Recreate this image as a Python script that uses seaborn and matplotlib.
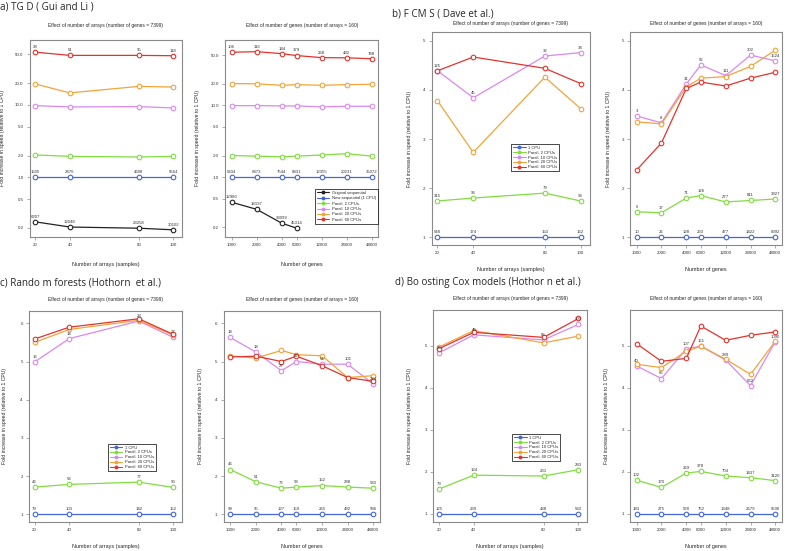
import numpy as np
import pandas as pd
import matplotlib
matplotlib.use("Agg")
import matplotlib.pyplot as plt
from matplotlib.lines import Line2D
from matplotlib.ticker import NullLocator
import seaborn as sns

# ------------------------------------------------------------------ data
arrays_x = [20, 40, 80, 100]
genes_x = [1000, 2000, 4000, 6000, 12000, 24000, 48000]
genes_orig_x = [1000, 2000, 4000, 6000]
genes_ticklabels = ["1000", "2000", "4000", "6000", "12000", "24000", "48000"]
log_yticks = [0.2, 0.5, 1.0, 2.0, 5.0, 10.0, 20.0, 50.0]

# a) TGD, arrays
tgd_arr_orig = [0.2425, 0.2055, 0.198, 0.188]
tgd_arr_1 = [1, 1, 1, 1]
tgd_arr_2 = [2.04, 1.95, 1.91, 1.95]
tgd_arr_10 = [9.8, 9.4, 9.5, 9.1]
tgd_arr_20 = [19.5, 14.7, 18.1, 17.7]
tgd_arr_60 = [53.75, 48.5, 48.5, 48.0]
tgd_arr_lab_orig = [6207, 12048, 23258, 30102]
tgd_arr_lab_1 = [1505, 2476, 4608, 5664]
tgd_arr_lab_60 = [28, 51, 95, 118]

# a) TGD, genes
tgd_gen_orig = [0.447, 0.356, 0.228, 0.195]
tgd_gen_1 = [1, 1, 1, 1, 1, 1, 1]
tgd_gen_2 = [2.0, 1.96, 1.92, 1.96, 2.03, 2.12, 1.96]
tgd_gen_10 = [9.9, 9.9, 9.8, 9.8, 9.5, 9.7, 9.7]
tgd_gen_20 = [20.1, 19.9, 19.0, 19.4, 19.0, 19.4, 19.6]
tgd_gen_60 = [54.8, 55.8, 52.4, 49.3, 46.1, 45.8, 44.5]
tgd_gen_lab_orig = [12980, 18197, 33099, 45314]
tgd_gen_lab_1 = [5804, 6473, 7544, 8831, 12355, 20231, 35072]
tgd_gen_lab_60 = [106, 116, 144, 179, 268, 442, 788]

# b) FCMS
fcms_arr_1 = [1, 1, 1, 1]
fcms_arr_2 = [1.74, 1.80, 1.90, 1.74]
fcms_arr_10 = [4.39, 3.84, 4.69, 4.76]
fcms_arr_20 = [3.78, 2.73, 4.26, 3.62]
fcms_arr_60 = [4.39, 4.67, 4.44, 4.13]
fcms_arr_lab_1 = [548, 174, 150, 162]
fcms_arr_lab_2 = [315, 96, 79, 93]
fcms_arr_lab_10 = [125, 45, 32, 34]

fcms_gen_1 = [1, 1, 1, 1, 1, 1, 1]
fcms_gen_2 = [1.52, 1.50, 1.80, 1.85, 1.72, 1.75, 1.78]
fcms_gen_10 = [3.47, 3.33, 4.12, 4.51, 4.29, 4.71, 4.59]
fcms_gen_20 = [3.35, 3.31, 4.06, 4.24, 4.27, 4.48, 4.81]
fcms_gen_60 = [2.37, 2.92, 4.03, 4.16, 4.08, 4.24, 4.36]
fcms_gen_lab_1 = [10, 26, 128, 233, 477, 1422, 6992]
fcms_gen_lab_2 = [6, 17, 71, 126, 277, 811, 3927]
fcms_gen_lab_10 = [3, 8, 31, 52, 111, 302, 1524]

# c) Random forests
rf_arr_1 = [1, 1, 1, 1]
rf_arr_2 = [1.71, 1.78, 1.84, 1.70]
rf_arr_10 = [4.99, 5.60, 6.06, 5.63]
rf_arr_20 = [5.50, 5.84, 6.08, 5.69]
rf_arr_60 = [5.59, 5.90, 6.12, 5.71]
rf_arr_lab_1 = [79, 103, 142, 152]
rf_arr_lab_2 = [46, 58, 77, 90]
rf_arr_lab_10 = [16, 18, 23, 27]

rf_gen_1 = [1, 1, 1, 1, 1, 1, 1]
rf_gen_2 = [2.17, 1.85, 1.68, 1.71, 1.75, 1.71, 1.68]
rf_gen_10 = [5.63, 5.25, 4.76, 5.0, 4.93, 4.93, 4.41]
rf_gen_20 = [5.15, 5.09, 5.29, 5.18, 5.15, 4.58, 4.63]
rf_gen_60 = [5.12, 5.14, 5.0, 5.14, 4.89, 4.58, 4.48]
rf_gen_lab_1 = [99, 95, 127, 159, 265, 492, 986]
rf_gen_lab_2 = [46, 51, 76, 93, 152, 288, 580]
rf_gen_lab_10 = [18, 18, 27, 32, 54, 101, 224]

# d) Boosting Cox models
bc_arr_1 = [1, 1, 1, 1]
bc_arr_2 = [1.59, 1.92, 1.90, 2.05]
bc_arr_10 = [4.83, 5.26, 5.14, 5.51]
bc_arr_20 = [4.97, 5.36, 5.07, 5.23]
bc_arr_60 = [4.93, 5.32, 5.20, 5.65]
bc_arr_lab_1 = [125, 239, 438, 580]
bc_arr_lab_2 = [79, 124, 231, 283]
bc_arr_lab_10 = [26, 45, 85, 105]

bc_gen_1 = [1, 1, 1, 1, 1, 1, 1]
bc_gen_2 = [1.80, 1.63, 1.97, 2.01, 1.90, 1.86, 1.79]
bc_gen_10 = [4.52, 4.22, 4.93, 4.99, 4.66, 4.05, 5.10]
bc_gen_20 = [4.56, 4.48, 4.87, 4.99, 4.68, 4.32, 5.11]
bc_gen_60 = [5.05, 4.63, 4.70, 5.47, 5.13, 5.25, 5.33]
bc_gen_lab_1 = [183, 275, 528, 752, 1348, 2679, 5590]
bc_gen_lab_2 = [102, 170, 269, 378, 704, 1437, 3120]
bc_gen_lab_10 = [40, 65, 107, 151, 289, 662, 1090]

# ------------------------------------------------------------------ style
colors = {"orig": "#222222", "1": "#4466DD", "2": "#80DD40",
          "10": "#DA88EE", "20": "#F2A43A", "60": "#E0352D"}
names_a = {"orig": "Original sequential", "1": "New sequential (1 CPU)",
           "2": "Parall. 2 CPUs", "10": "Parall. 10 CPUs",
           "20": "Parall. 20 CPUs", "60": "Parall. 60 CPUs"}
names_b = dict(names_a, **{"1": "1 CPU"})

sns.set_style("white")
plt.rcParams["font.family"] = ["Liberation Sans", "DejaVu Sans"]
GREY = "#8a8a8a"

arr_title = "Effect of number of arrays (number of genes = 7399)"
gen_title = "Effect of number of genes (number of arrays = 160)"
ylab = "Fold increase in speed (relative to 1 CPU)"


def draw_panel(ax, xs, series, labels, genes, ylog, ylim, yticks, title,
               title_y, xlab_y, ylab_x, legend_names=None, legend_anchor=None):
    if genes:
        ax.set_xscale("log", base=2)
    if ylog:
        ax.set_yscale("log")
    for key, (x, y) in series.items():
        c = colors[key]
        sns.lineplot(x=x, y=y, ax=ax, color=c, marker="o", markersize=3.3,
                     markerfacecolor="white", markeredgecolor=c,
                     markeredgewidth=0.8, linewidth=0.9)
    # running times written above the points
    for key, labs in labels.items():
        x, y = series[key]
        for xi, yi, lab in zip(x, y, labs):
            ax.annotate(str(lab), (xi, yi), xytext=(0, 2.2),
                        textcoords="offset points", ha="center", va="bottom",
                        fontsize=3.1, color="#333333")
    if genes:
        ax.set_xlim(840, 57500)
        ax.set_xticks(genes_x)
        ax.set_xticklabels(genes_ticklabels)
        ax.xaxis.set_minor_locator(NullLocator())
        ax.set_xlabel("Number of genes", fontsize=3.9)
    else:
        ax.set_xlim(16.8, 105)
        ax.set_xticks(arrays_x)
        ax.set_xlabel("Number of arrays (samples)", fontsize=3.9)
    ax.set_ylim(*ylim)
    ax.set_yticks(yticks)
    if ylog:
        ax.set_yticklabels([f"{t:.1f}" for t in yticks])
        ax.yaxis.set_minor_locator(NullLocator())
    else:
        ax.set_yticklabels([str(t) for t in yticks])
    ax.set_ylabel(ylab, fontsize=3.7)
    ax.xaxis.set_label_coords(0.5, xlab_y)
    ax.yaxis.set_label_coords(ylab_x, 0.5)
    ax.text(0.5, title_y, title, transform=ax.transAxes, ha="center",
            va="center", fontsize=3.5)
    ax.tick_params(axis="both", direction="out", length=2.5, width=0.5,
                   color=GREY, labelsize=3.2, labelcolor="#333333", pad=2,
                   left=True, bottom=True)
    for sp in ax.spines.values():
        sp.set_color(GREY)
        sp.set_linewidth(0.8)
    if ax.get_legend() is not None:
        ax.get_legend().remove()
    if legend_names is not None:
        handles = [Line2D([], [], color=colors[k], marker="o", markersize=1.8,
                          linewidth=0.8) for k in series]
        spacing = 0.35 if len(series) == 6 else 0.22
        ax.legend(handles, [legend_names[k] for k in series], loc="upper left",
                  bbox_to_anchor=legend_anchor, fontsize=3.0, frameon=True,
                  fancybox=False, edgecolor="black", framealpha=1,
                  handlelength=3.0, borderpad=0.45, labelspacing=spacing,
                  handletextpad=0.6).get_frame().set_linewidth(0.5)


fig = plt.figure(figsize=(7.85, 5.51), dpi=100)

pos = {"a1": [0.038, 0.570, 0.194, 0.358], "a2": [0.287, 0.570, 0.195, 0.358],
       "b1": [0.550, 0.555, 0.201, 0.387], "b2": [0.803, 0.555, 0.193, 0.387],
       "c1": [0.037, 0.053, 0.195, 0.383], "c2": [0.285, 0.053, 0.199, 0.383],
       "d1": [0.552, 0.053, 0.196, 0.385], "d2": [0.803, 0.053, 0.193, 0.385]}
ax = {k: fig.add_axes(v) for k, v in pos.items()}

# a) TGD
draw_panel(ax["a1"], arrays_x,
           {"orig": (arrays_x, tgd_arr_orig), "1": (arrays_x, tgd_arr_1),
            "2": (arrays_x, tgd_arr_2), "10": (arrays_x, tgd_arr_10),
            "20": (arrays_x, tgd_arr_20), "60": (arrays_x, tgd_arr_60)},
           {"orig": tgd_arr_lab_orig, "1": tgd_arr_lab_1, "60": tgd_arr_lab_60},
           False, True, (0.15, 80), log_yticks, arr_title, 1.071, -0.127, -0.164)
draw_panel(ax["a2"], genes_x,
           {"orig": (genes_orig_x, tgd_gen_orig), "1": (genes_x, tgd_gen_1),
            "2": (genes_x, tgd_gen_2), "10": (genes_x, tgd_gen_10),
            "20": (genes_x, tgd_gen_20), "60": (genes_x, tgd_gen_60)},
           {"orig": tgd_gen_lab_orig, "1": tgd_gen_lab_1, "60": tgd_gen_lab_60},
           True, True, (0.147, 82), log_yticks, gen_title, 1.071, -0.127, -0.163,
           names_a, (0.57, 0.255))

# b) FCMS
draw_panel(ax["b1"], arrays_x,
           {"1": (arrays_x, fcms_arr_1), "2": (arrays_x, fcms_arr_2),
            "10": (arrays_x, fcms_arr_10), "20": (arrays_x, fcms_arr_20),
            "60": (arrays_x, fcms_arr_60)},
           {"1": fcms_arr_lab_1, "2": fcms_arr_lab_2, "10": fcms_arr_lab_10},
           False, False, (0.84, 5.18), [1, 2, 3, 4, 5], arr_title, 1.038, -0.103,
           -0.127, names_b, (0.49, 0.485))
draw_panel(ax["b2"], genes_x,
           {"1": (genes_x, fcms_gen_1), "2": (genes_x, fcms_gen_2),
            "10": (genes_x, fcms_gen_10), "20": (genes_x, fcms_gen_20),
            "60": (genes_x, fcms_gen_60)},
           {"1": fcms_gen_lab_1, "2": fcms_gen_lab_2, "10": fcms_gen_lab_10},
           True, False, (0.84, 5.18), [1, 2, 3, 4, 5], gen_title, 1.038, -0.103,
           -0.13)

# c) Random forests
draw_panel(ax["c1"], arrays_x,
           {"1": (arrays_x, rf_arr_1), "2": (arrays_x, rf_arr_2),
            "10": (arrays_x, rf_arr_10), "20": (arrays_x, rf_arr_20),
            "60": (arrays_x, rf_arr_60)},
           {"1": rf_arr_lab_1, "2": rf_arr_lab_2, "10": rf_arr_lab_10},
           False, False, (0.8, 6.33), [1, 2, 3, 4, 5, 6], arr_title, 1.052, -0.104,
           -0.144, names_b, (0.50, 0.38))
draw_panel(ax["c2"], genes_x,
           {"1": (genes_x, rf_gen_1), "2": (genes_x, rf_gen_2),
            "10": (genes_x, rf_gen_10), "20": (genes_x, rf_gen_20),
            "60": (genes_x, rf_gen_60)},
           {"1": rf_gen_lab_1, "2": rf_gen_lab_2, "10": rf_gen_lab_10},
           True, False, (0.8, 6.33), [1, 2, 3, 4, 5, 6], gen_title, 1.052, -0.104,
           -0.135)

# d) Boosting Cox models
draw_panel(ax["d1"], arrays_x,
           {"1": (arrays_x, bc_arr_1), "2": (arrays_x, bc_arr_2),
            "10": (arrays_x, bc_arr_10), "20": (arrays_x, bc_arr_20),
            "60": (arrays_x, bc_arr_60)},
           {"1": bc_arr_lab_1, "2": bc_arr_lab_2, "10": bc_arr_lab_10},
           False, False, (0.81, 5.86), [1, 2, 3, 4, 5], arr_title, 1.052, -0.104,
           -0.136, names_b, (0.50, 0.425))
draw_panel(ax["d2"], genes_x,
           {"1": (genes_x, bc_gen_1), "2": (genes_x, bc_gen_2),
            "10": (genes_x, bc_gen_10), "20": (genes_x, bc_gen_20),
            "60": (genes_x, bc_gen_60)},
           {"1": bc_gen_lab_1, "2": bc_gen_lab_2, "10": bc_gen_lab_10},
           True, False, (0.81, 5.86), [1, 2, 3, 4, 5], gen_title, 1.052, -0.104,
           -0.138)

# panel headings
head_font = ["Open Sans", "DejaVu Sans"]
fig.text(0.0, 1 - 7 / 551, "a) TG D ( Gui and Li )", fontsize=7.1,
         family=head_font, va="center", ha="left")
fig.text(392 / 785, 1 - 14 / 551, "b) F CM S ( Dave et al.)", fontsize=7.1,
         family=head_font, va="center", ha="left")
fig.text(0.0, 1 - 283 / 551, "c) Rando m forests (Hothorn  et al.)", fontsize=7.1,
         family=head_font, va="center", ha="left")
fig.text(395 / 785, 1 - 283 / 551, "d) Bo osting Cox models (Hothor n et al.)",
         fontsize=7.1, family=head_font, va="center", ha="left")

fig.savefig("out.png", dpi=100)
